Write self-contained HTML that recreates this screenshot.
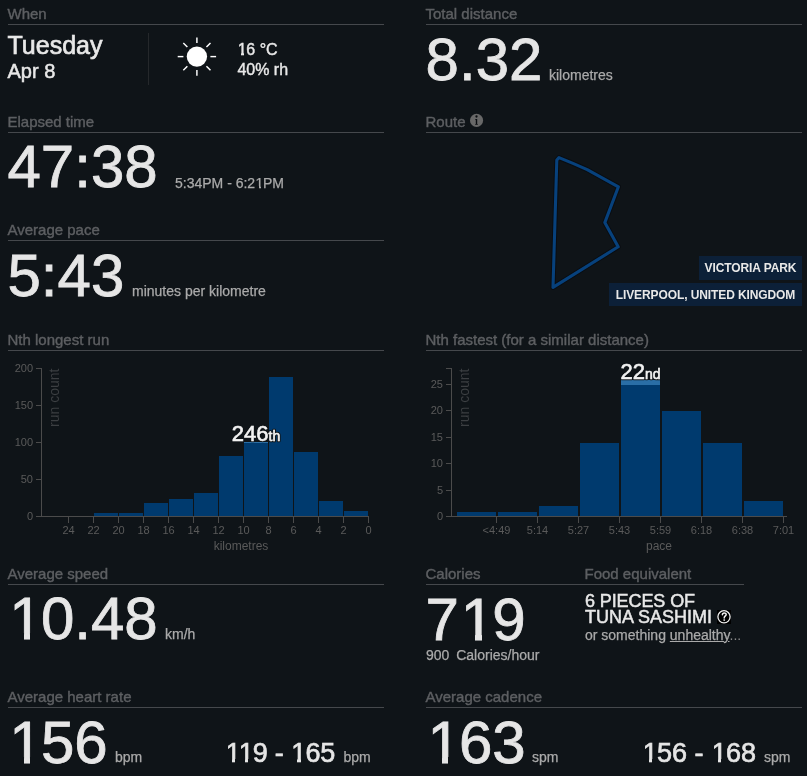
<!DOCTYPE html>
<html><head><meta charset="utf-8"><style>
html,body{margin:0;padding:0;background:#0f1418;width:807px;height:776px;overflow:hidden}
body{position:relative;font-family:"Liberation Sans",sans-serif}
.t{position:absolute;white-space:nowrap}
.r{position:absolute}

.one{position:relative;display:inline-block;left:0.03em}
.one i{position:absolute;background:#0f1418}
#w{position:absolute;left:0;top:0;width:807px;height:776px;will-change:transform;background:#0f1418}
.box{letter-spacing:-0.1px;background:#0c2038;color:#e8e8e8;font-size:12px;font-weight:700;line-height:24px;text-align:center;font-family:"Liberation Sans",sans-serif}
</style></head><body><div id="w">
<div class="t" style="left:7.5px;top:6px;font-size:15px;line-height:15px;color:#5d5f62;font-weight:400;-webkit-text-stroke:0.4px #5d5f62;">When</div>
<div class="r" style="left:8px;top:24px;width:376px;height:1px;background:#45484c"></div>
<div class="t" style="left:7.5px;top:33px;font-size:25px;line-height:25px;color:#e8e8e8;font-weight:400;-webkit-text-stroke:0.65px #e8e8e8;">Tuesday</div>
<div class="t" style="left:7.5px;top:61px;font-size:20px;line-height:20px;color:#e8e8e8;font-weight:400;-webkit-text-stroke:0.5px #e8e8e8;">Apr 8</div>
<div class="r" style="left:148px;top:33px;width:1px;height:52px;background:#25282b"></div>
<svg class="r" style="left:0;top:0" width="400" height="100"><circle cx="196.9" cy="56.6" r="10.2" fill="#fff"/><g stroke="#fff" stroke-width="1.45"><line x1="210.40" y1="56.60" x2="216.10" y2="56.60"/><line x1="206.45" y1="66.15" x2="210.48" y2="70.18"/><line x1="196.90" y1="70.10" x2="196.90" y2="75.80"/><line x1="187.35" y1="66.15" x2="183.32" y2="70.18"/><line x1="183.40" y1="56.60" x2="177.70" y2="56.60"/><line x1="187.35" y1="47.05" x2="183.32" y2="43.02"/><line x1="196.90" y1="43.10" x2="196.90" y2="37.40"/><line x1="206.45" y1="47.05" x2="210.48" y2="43.02"/></g></svg>
<div class="t" style="left:237.4px;top:42px;font-size:16px;line-height:16px;color:#e8e8e8;font-weight:400;-webkit-text-stroke:0.4px #e8e8e8;"><span class="one">1<i style="left:-1px;width:4.50px;top:10.87px;height:3.13px"></i><i style="left:5.72px;width:3.48px;top:10.87px;height:3.13px"></i></span>6 °C</div>
<div class="t" style="left:237.4px;top:62px;font-size:16px;line-height:16px;color:#e8e8e8;font-weight:400;-webkit-text-stroke:0.4px #e8e8e8;">40% rh</div>
<div class="t" style="left:7.5px;top:114px;font-size:15px;line-height:15px;color:#5d5f62;font-weight:400;-webkit-text-stroke:0.4px #5d5f62;">Elapsed time</div>
<div class="r" style="left:8px;top:132px;width:376px;height:1px;background:#45484c"></div>
<div class="t" style="left:7.5px;top:137px;font-size:60px;line-height:60px;color:#e6e6e6;font-weight:400;-webkit-text-stroke:0.8px #e6e6e6;">47:38</div>
<div class="t" style="left:175px;top:176px;font-size:14px;line-height:14px;color:#aaaaaa;font-weight:400;-webkit-text-stroke:0.25px #aaaaaa;">5:34PM - 6:2<span class="one">1<i style="left:-1px;width:4.08px;top:10.11px;height:2.81px"></i><i style="left:4.96px;width:3.09px;top:10.11px;height:2.81px"></i></span>PM</div>
<div class="t" style="left:7.5px;top:222px;font-size:15px;line-height:15px;color:#5d5f62;font-weight:400;-webkit-text-stroke:0.4px #5d5f62;">Average pace</div>
<div class="r" style="left:8px;top:240px;width:376px;height:1px;background:#45484c"></div>
<div class="t" style="left:7.5px;top:246px;font-size:60px;line-height:60px;color:#e6e6e6;font-weight:400;-webkit-text-stroke:0.8px #e6e6e6;">5:43</div>
<div class="t" style="left:132px;top:284px;font-size:14px;line-height:14px;color:#aaaaaa;font-weight:400;-webkit-text-stroke:0.25px #aaaaaa;">minutes per kilometre</div>
<div class="t" style="left:7.5px;top:332px;font-size:15px;line-height:15px;color:#5d5f62;font-weight:400;-webkit-text-stroke:0.4px #5d5f62;">Nth longest run</div>
<div class="r" style="left:8px;top:350px;width:376px;height:1px;background:#45484c"></div>
<svg class="r" style="left:0;top:0" width="807" height="776" font-family="Liberation Sans, sans-serif"><line x1="41.5" y1="368" x2="41.5" y2="517" stroke="#4b4b4b" stroke-width="1"/><line x1="36" y1="516.5" x2="41.5" y2="516.5" stroke="#4b4b4b" stroke-width="1"/><text x="33" y="520.0" font-size="11" fill="#5a5a5a" text-anchor="end" >0</text><line x1="36" y1="479.5" x2="41.5" y2="479.5" stroke="#4b4b4b" stroke-width="1"/><text x="33" y="483.0" font-size="11" fill="#5a5a5a" text-anchor="end" >50</text><line x1="36" y1="442.5" x2="41.5" y2="442.5" stroke="#4b4b4b" stroke-width="1"/><text x="33" y="446.0" font-size="11" fill="#5a5a5a" text-anchor="end" >100</text><line x1="36" y1="405.5" x2="41.5" y2="405.5" stroke="#4b4b4b" stroke-width="1"/><text x="33" y="409.0" font-size="11" fill="#5a5a5a" text-anchor="end" >150</text><line x1="36" y1="368.5" x2="41.5" y2="368.5" stroke="#4b4b4b" stroke-width="1"/><text x="33" y="372.0" font-size="11" fill="#5a5a5a" text-anchor="end" >200</text><line x1="36" y1="516.5" x2="369" y2="516.5" stroke="#4b4b4b" stroke-width="1"/><line x1="68.5" y1="517" x2="68.5" y2="523" stroke="#4b4b4b" stroke-width="1"/><text x="68.5" y="534" font-size="11" fill="#5a5a5a" text-anchor="middle" >24</text><line x1="93.5" y1="517" x2="93.5" y2="523" stroke="#4b4b4b" stroke-width="1"/><text x="93.5" y="534" font-size="11" fill="#5a5a5a" text-anchor="middle" >22</text><line x1="118.5" y1="517" x2="118.5" y2="523" stroke="#4b4b4b" stroke-width="1"/><text x="118.5" y="534" font-size="11" fill="#5a5a5a" text-anchor="middle" >20</text><line x1="143.5" y1="517" x2="143.5" y2="523" stroke="#4b4b4b" stroke-width="1"/><text x="143.5" y="534" font-size="11" fill="#5a5a5a" text-anchor="middle" >18</text><line x1="168.5" y1="517" x2="168.5" y2="523" stroke="#4b4b4b" stroke-width="1"/><text x="168.5" y="534" font-size="11" fill="#5a5a5a" text-anchor="middle" >16</text><line x1="193.5" y1="517" x2="193.5" y2="523" stroke="#4b4b4b" stroke-width="1"/><text x="193.5" y="534" font-size="11" fill="#5a5a5a" text-anchor="middle" >14</text><line x1="218.5" y1="517" x2="218.5" y2="523" stroke="#4b4b4b" stroke-width="1"/><text x="218.5" y="534" font-size="11" fill="#5a5a5a" text-anchor="middle" >12</text><line x1="243.5" y1="517" x2="243.5" y2="523" stroke="#4b4b4b" stroke-width="1"/><text x="243.5" y="534" font-size="11" fill="#5a5a5a" text-anchor="middle" >10</text><line x1="268.5" y1="517" x2="268.5" y2="523" stroke="#4b4b4b" stroke-width="1"/><text x="268.5" y="534" font-size="11" fill="#5a5a5a" text-anchor="middle" >8</text><line x1="293.5" y1="517" x2="293.5" y2="523" stroke="#4b4b4b" stroke-width="1"/><text x="293.5" y="534" font-size="11" fill="#5a5a5a" text-anchor="middle" >6</text><line x1="318.5" y1="517" x2="318.5" y2="523" stroke="#4b4b4b" stroke-width="1"/><text x="318.5" y="534" font-size="11" fill="#5a5a5a" text-anchor="middle" >4</text><line x1="343.5" y1="517" x2="343.5" y2="523" stroke="#4b4b4b" stroke-width="1"/><text x="343.5" y="534" font-size="11" fill="#5a5a5a" text-anchor="middle" >2</text><line x1="368.5" y1="517" x2="368.5" y2="523" stroke="#4b4b4b" stroke-width="1"/><text x="368.5" y="534" font-size="11" fill="#5a5a5a" text-anchor="middle" >0</text><rect x="94.0" y="513" width="24" height="3" fill="#003a6e"/><rect x="119.0" y="513" width="24" height="3" fill="#003a6e"/><rect x="144.0" y="503" width="24" height="13" fill="#003a6e"/><rect x="169.0" y="499" width="24" height="17" fill="#003a6e"/><rect x="194.0" y="493" width="24" height="23" fill="#003a6e"/><rect x="219.0" y="456" width="24" height="60" fill="#003a6e"/><rect x="244.0" y="443" width="24" height="73" fill="#003a6e"/><rect x="269.0" y="377" width="24" height="139" fill="#003a6e"/><rect x="294.0" y="452" width="24" height="64" fill="#003a6e"/><rect x="319.0" y="501" width="24" height="15" fill="#003a6e"/><rect x="344.0" y="511" width="24" height="5" fill="#003a6e"/><rect x="244.0" y="442" width="24" height="1" fill="#2a6ea6"/><text x="241" y="549.5" font-size="12" fill="#5a5a5a" text-anchor="middle" >kilometres</text><text transform="translate(59,368.5) rotate(-90)" x="0" y="0" font-size="14" fill="#3c3f42" text-anchor="end">run count</text><text x="256" y="441" text-anchor="middle" fill="#0f1418" stroke="#0f1418" stroke-width="2.6" stroke-linejoin="round"><tspan font-size="22">246</tspan><tspan font-size="14">th</tspan></text><text x="256" y="441" text-anchor="middle" fill="#f2f2f2" stroke="#f2f2f2" stroke-width="0.6"><tspan font-size="22">246</tspan><tspan font-size="14">th</tspan></text><line x1="451.5" y1="368" x2="451.5" y2="517" stroke="#4b4b4b" stroke-width="1"/><line x1="446" y1="516.5" x2="451.5" y2="516.5" stroke="#4b4b4b" stroke-width="1"/><text x="443" y="520.0" font-size="11" fill="#5a5a5a" text-anchor="end" >0</text><line x1="446" y1="490.5" x2="451.5" y2="490.5" stroke="#4b4b4b" stroke-width="1"/><text x="443" y="494.0" font-size="11" fill="#5a5a5a" text-anchor="end" >5</text><line x1="446" y1="463.5" x2="451.5" y2="463.5" stroke="#4b4b4b" stroke-width="1"/><text x="443" y="467.0" font-size="11" fill="#5a5a5a" text-anchor="end" >10</text><line x1="446" y1="437.5" x2="451.5" y2="437.5" stroke="#4b4b4b" stroke-width="1"/><text x="443" y="441.0" font-size="11" fill="#5a5a5a" text-anchor="end" >15</text><line x1="446" y1="410.5" x2="451.5" y2="410.5" stroke="#4b4b4b" stroke-width="1"/><text x="443" y="414.0" font-size="11" fill="#5a5a5a" text-anchor="end" >20</text><line x1="446" y1="384.5" x2="451.5" y2="384.5" stroke="#4b4b4b" stroke-width="1"/><text x="443" y="388.0" font-size="11" fill="#5a5a5a" text-anchor="end" >25</text><line x1="446" y1="516.5" x2="787" y2="516.5" stroke="#4b4b4b" stroke-width="1"/><line x1="446" y1="368.5" x2="451.5" y2="368.5" stroke="#4b4b4b" stroke-width="1"/><line x1="496.5" y1="517" x2="496.5" y2="523" stroke="#4b4b4b" stroke-width="1"/><text x="496.5" y="534" font-size="11" fill="#5a5a5a" text-anchor="middle" >&lt;4:49</text><line x1="537.5" y1="517" x2="537.5" y2="523" stroke="#4b4b4b" stroke-width="1"/><text x="537.5" y="534" font-size="11" fill="#5a5a5a" text-anchor="middle" >5:14</text><line x1="578.5" y1="517" x2="578.5" y2="523" stroke="#4b4b4b" stroke-width="1"/><text x="578.5" y="534" font-size="11" fill="#5a5a5a" text-anchor="middle" >5:27</text><line x1="619.5" y1="517" x2="619.5" y2="523" stroke="#4b4b4b" stroke-width="1"/><text x="619.5" y="534" font-size="11" fill="#5a5a5a" text-anchor="middle" >5:43</text><line x1="660.5" y1="517" x2="660.5" y2="523" stroke="#4b4b4b" stroke-width="1"/><text x="660.5" y="534" font-size="11" fill="#5a5a5a" text-anchor="middle" >5:59</text><line x1="701.5" y1="517" x2="701.5" y2="523" stroke="#4b4b4b" stroke-width="1"/><text x="701.5" y="534" font-size="11" fill="#5a5a5a" text-anchor="middle" >6:18</text><line x1="742.5" y1="517" x2="742.5" y2="523" stroke="#4b4b4b" stroke-width="1"/><text x="742.5" y="534" font-size="11" fill="#5a5a5a" text-anchor="middle" >6:38</text><line x1="783.5" y1="517" x2="783.5" y2="523" stroke="#4b4b4b" stroke-width="1"/><text x="783.5" y="534" font-size="11" fill="#5a5a5a" text-anchor="middle" >7:01</text><rect x="457" y="512" width="39" height="4" fill="#003a6e"/><rect x="498" y="512" width="39" height="4" fill="#003a6e"/><rect x="539" y="506" width="39" height="10" fill="#003a6e"/><rect x="580" y="443" width="39" height="73" fill="#003a6e"/><rect x="621" y="385" width="39" height="131" fill="#003a6e"/><rect x="621" y="380" width="39" height="5" fill="#2a6ea6"/><rect x="662" y="411" width="39" height="105" fill="#003a6e"/><rect x="703" y="443" width="39" height="73" fill="#003a6e"/><rect x="744" y="501" width="39" height="15" fill="#003a6e"/><text x="659" y="549.5" font-size="12" fill="#5a5a5a" text-anchor="middle" >pace</text><text transform="translate(469,368.5) rotate(-90)" x="0" y="0" font-size="14" fill="#3c3f42" text-anchor="end">run count</text><text x="640.5" y="379" text-anchor="middle" fill="#0f1418" stroke="#0f1418" stroke-width="2.6" stroke-linejoin="round"><tspan font-size="22">22</tspan><tspan font-size="14">nd</tspan></text><text x="640.5" y="379" text-anchor="middle" fill="#f2f2f2" stroke="#f2f2f2" stroke-width="0.6"><tspan font-size="22">22</tspan><tspan font-size="14">nd</tspan></text></svg>
<div class="t" style="left:7.5px;top:566px;font-size:15px;line-height:15px;color:#5d5f62;font-weight:400;-webkit-text-stroke:0.4px #5d5f62;">Average speed</div>
<div class="r" style="left:8px;top:584px;width:376px;height:1px;background:#45484c"></div>
<div class="t" style="left:7.5px;top:589px;font-size:60px;line-height:60px;color:#e6e6e6;font-weight:400;-webkit-text-stroke:0.8px #e6e6e6;"><span class="one">1<i style="left:-1px;width:15.30px;top:44.02px;height:7.18px"></i><i style="left:20.97px;width:13.53px;top:44.02px;height:7.18px"></i></span>0.48</div>
<div class="t" style="left:165px;top:627px;font-size:14px;line-height:14px;color:#aaaaaa;font-weight:400;-webkit-text-stroke:0.25px #aaaaaa;">km/h</div>
<div class="t" style="left:7.5px;top:689px;font-size:15px;line-height:15px;color:#5d5f62;font-weight:400;-webkit-text-stroke:0.4px #5d5f62;">Average heart rate</div>
<div class="r" style="left:8px;top:707px;width:376px;height:1px;background:#45484c"></div>
<div class="t" style="left:7.5px;top:713px;font-size:60px;line-height:60px;color:#e6e6e6;font-weight:400;-webkit-text-stroke:0.8px #e6e6e6;"><span class="one">1<i style="left:-1px;width:15.30px;top:44.02px;height:7.18px"></i><i style="left:20.97px;width:13.53px;top:44.02px;height:7.18px"></i></span>56</div>
<div class="t" style="left:115px;top:750px;font-size:14px;line-height:14px;color:#aaaaaa;font-weight:400;-webkit-text-stroke:0.25px #aaaaaa;">bpm</div>
<div class="t" style="left:225px;top:740px;font-size:27px;line-height:27px;color:#e6e6e6;font-weight:400;-webkit-text-stroke:0.65px #e6e6e6;letter-spacing:-0.1px;word-spacing:-0.5px"><span class="one" style="margin-right:-2px">1<i style="left:-1px;width:7.12px;top:18.83px;height:4.29px"></i><i style="left:9.61px;width:5.92px;top:18.83px;height:4.29px"></i></span><span class="one">1<i style="left:-1px;width:7.12px;top:18.83px;height:4.29px"></i><i style="left:9.61px;width:5.92px;top:18.83px;height:4.29px"></i></span>9 - <span class="one">1<i style="left:-1px;width:7.12px;top:18.83px;height:4.29px"></i><i style="left:9.61px;width:5.92px;top:18.83px;height:4.29px"></i></span>65</div>
<div class="t" style="left:343.5px;top:750px;font-size:14px;line-height:14px;color:#aaaaaa;font-weight:400;-webkit-text-stroke:0.25px #aaaaaa;">bpm</div>
<div class="t" style="left:425.5px;top:6px;font-size:15px;line-height:15px;color:#5d5f62;font-weight:400;-webkit-text-stroke:0.4px #5d5f62;">Total distance</div>
<div class="r" style="left:426px;top:24px;width:376px;height:1px;background:#45484c"></div>
<div class="t" style="left:425.6px;top:30px;font-size:60px;line-height:60px;color:#e6e6e6;font-weight:400;-webkit-text-stroke:0.8px #e6e6e6;">8.32</div>
<div class="t" style="left:549px;top:68px;font-size:14px;line-height:14px;color:#aaaaaa;font-weight:400;-webkit-text-stroke:0.25px #aaaaaa;">kilometres</div>
<div class="t" style="left:425.5px;top:114px;font-size:15px;line-height:15px;color:#5d5f62;font-weight:400;-webkit-text-stroke:0.4px #5d5f62;">Route</div>
<div class="r" style="left:426px;top:132px;width:376px;height:1px;background:#45484c"></div>
<svg class="r" style="left:468px;top:112px" width="18" height="18"><circle cx="8.55" cy="8.4" r="6.55" fill="#686868"/><circle cx="8.5" cy="4.5" r="1.15" fill="#0a0d10"/><path d="M7.2,7 H9.2 V12 H9.8 V12.8 H7.2 V12 H7.8 V7.8 H7.2 Z" fill="#0a0d10"/></svg>
<svg class="r" style="left:0;top:0" width="807" height="776"><path d="M559,157.6 Q574,163.6 587.2,169.6 L618.4,186.8 L604.8,222.6 L618.2,246.8 L553,287.4 L556.8,160 Z" fill="none" stroke="#05080c" stroke-opacity="0.55" stroke-width="5" stroke-linejoin="round"/><path d="M559,157.6 Q574,163.6 587.2,169.6 L618.4,186.8 L604.8,222.6 L618.2,246.8 L553,287.4 L556.8,160 Z" fill="none" stroke="#07417c" stroke-width="3.1" stroke-linejoin="round"/></svg>
<div class="r box" style="left:699px;top:256px;width:103px;height:24px">VICTORIA PARK</div>
<div class="r box" style="left:609px;top:283px;width:193px;height:23px">LIVERPOOL, UNITED KINGDOM</div>
<div class="t" style="left:425.5px;top:332px;font-size:15px;line-height:15px;color:#5d5f62;font-weight:400;-webkit-text-stroke:0.4px #5d5f62;">Nth fastest (for a similar distance)</div>
<div class="r" style="left:426px;top:350px;width:376px;height:1px;background:#45484c"></div>
<div class="t" style="left:425.5px;top:566px;font-size:15px;line-height:15px;color:#5d5f62;font-weight:400;-webkit-text-stroke:0.4px #5d5f62;">Calories</div>
<div class="r" style="left:426px;top:584px;width:159px;height:1px;background:#45484c"></div>
<div class="t" style="left:584.5px;top:566px;font-size:15px;line-height:15px;color:#5d5f62;font-weight:400;-webkit-text-stroke:0.4px #5d5f62;">Food equivalent</div>
<div class="r" style="left:585px;top:584px;width:159px;height:1px;background:#45484c"></div>
<div class="t" style="left:425.6px;top:590px;font-size:60px;line-height:60px;color:#e6e6e6;font-weight:400;-webkit-text-stroke:0.8px #e6e6e6;">7<span class="one">1<i style="left:-1px;width:15.30px;top:44.02px;height:7.18px"></i><i style="left:20.97px;width:13.53px;top:44.02px;height:7.18px"></i></span>9</div>
<div class="t" style="left:426px;top:648px;font-size:14px;line-height:14px;color:#aaaaaa;font-weight:400;-webkit-text-stroke:0.25px #aaaaaa;">900</div>
<div class="t" style="left:456.2px;top:648px;font-size:14px;line-height:14px;color:#aaaaaa;font-weight:400;-webkit-text-stroke:0.25px #aaaaaa;">Calories/hour</div>
<div class="t" style="left:585px;top:592px;font-size:18px;line-height:18px;color:#e8e8e8;font-weight:400;-webkit-text-stroke:0.5px #e8e8e8;letter-spacing:-0.1px">6 PIECES OF</div>
<div class="t" style="left:585px;top:608px;font-size:18px;line-height:18px;color:#e8e8e8;font-weight:400;-webkit-text-stroke:0.5px #e8e8e8;">TUNA SASHIMI</div>
<div class="t" style="left:585px;top:628px;font-size:14px;line-height:14px;color:#aaaaaa;font-weight:400;-webkit-text-stroke:0.25px #aaaaaa;">or something <u>unhealthy</u><span style="-webkit-text-stroke:0;color:#8a8a8a">...</span></div>
<svg class="r" style="left:717px;top:610px" width="14" height="14"><rect width="14" height="14" fill="#000"/><circle cx="7" cy="6.8" r="6.1" fill="#000" stroke="#f0f0f0" stroke-width="1.3"/><path d="M5.4,4.7 C5.4,2.5 9.2,2.4 9.2,4.5 C9.2,5.9 7.2,6.0 7.2,8.1" fill="none" stroke="#f0f0f0" stroke-width="1.5" stroke-linecap="round"/><ellipse cx="7.2" cy="10.1" rx="1.0" ry="0.8" fill="#f0f0f0"/></svg>
<div class="t" style="left:425.5px;top:689px;font-size:15px;line-height:15px;color:#5d5f62;font-weight:400;-webkit-text-stroke:0.4px #5d5f62;">Average cadence</div>
<div class="r" style="left:426px;top:707px;width:376px;height:1px;background:#45484c"></div>
<div class="t" style="left:425.6px;top:713px;font-size:60px;line-height:60px;color:#e6e6e6;font-weight:400;-webkit-text-stroke:0.8px #e6e6e6;"><span class="one">1<i style="left:-1px;width:15.30px;top:44.02px;height:7.18px"></i><i style="left:20.97px;width:13.53px;top:44.02px;height:7.18px"></i></span>63</div>
<div class="t" style="left:532px;top:750px;font-size:14px;line-height:14px;color:#aaaaaa;font-weight:400;-webkit-text-stroke:0.25px #aaaaaa;">spm</div>
<div class="t" style="left:642px;top:740px;font-size:27px;line-height:27px;color:#e6e6e6;font-weight:400;-webkit-text-stroke:0.65px #e6e6e6;"><span class="one">1<i style="left:-1px;width:7.12px;top:18.83px;height:4.29px"></i><i style="left:9.61px;width:5.92px;top:18.83px;height:4.29px"></i></span>56 - <span class="one">1<i style="left:-1px;width:7.12px;top:18.83px;height:4.29px"></i><i style="left:9.61px;width:5.92px;top:18.83px;height:4.29px"></i></span>68</div>
<div class="t" style="left:764px;top:750px;font-size:14px;line-height:14px;color:#aaaaaa;font-weight:400;-webkit-text-stroke:0.25px #aaaaaa;">spm</div>
</div></body></html>
